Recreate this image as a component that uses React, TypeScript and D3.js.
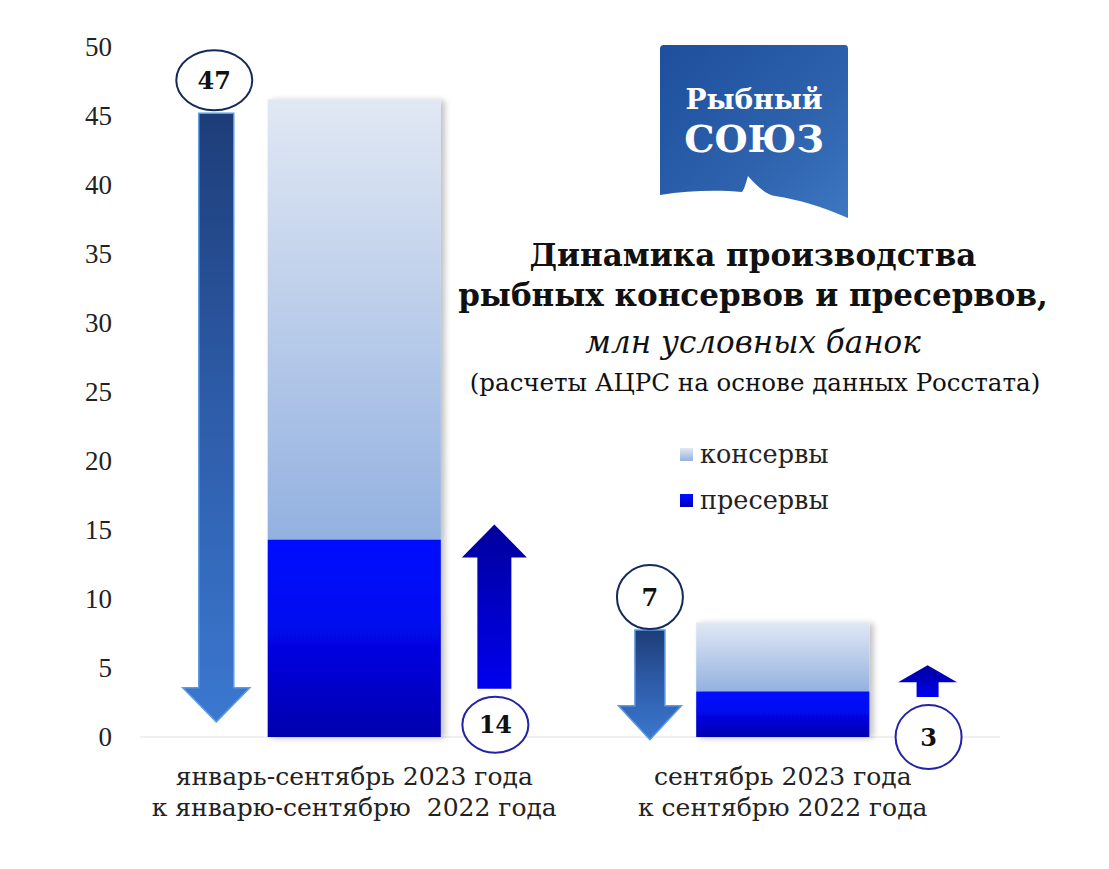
import React from "react";
import * as d3 from "d3";

// categories (two lines each)
const catLine1 = ["январь-сентябрь 2023 года", "сентябрь 2023 года"];
const catLine2 = ["к январю-сентябрю  2022 года", "к сентябрю 2022 года"];

// millions of conventional cans
const konservy = [46.2, 8.3];
const preservy = [14.3, 3.3];

// change labels (%), down for консервы, up for пресервы
const konservyChange = [47, 7];
const preservyChange = [14, 3];
// arrow extents in axis units
const downFrom = [45.2, 7.75];
const downTo = [1.1, -0.2];
const upFrom = [3.5, 2.9];
const upTo = [15.4, 5.2];

const yTicks = [0, 5, 10, 15, 20, 25, 30, 35, 40, 45, 50];

const W = 1109;
const H = 869;
const serif = "'DejaVu Serif', 'Liberation Serif', serif";

function arrowPath(cx: number, y0: number, y1: number, shaft: number, head: number, headLen: number) {
  // y0 = tail, y1 = tip
  const dir = y1 > y0 ? 1 : -1;
  const hb = y1 - dir * headLen;
  return [
    [cx - shaft / 2, y0],
    [cx + shaft / 2, y0],
    [cx + shaft / 2, hb],
    [cx + head / 2, hb],
    [cx, y1],
    [cx - head / 2, hb],
    [cx - shaft / 2, hb],
  ]
    .map((p, i) => (i ? "L" : "M") + p[0] + "," + p[1])
    .join("") + "Z";
}

export default function App() {
  const y = d3.scaleLinear().domain([0, 50]).range([737, 47]);
  const x = d3.scaleBand<number>().domain([0, 1]).range([140, 997]);
  const bw = x.bandwidth();
  const barW = bw * 0.404;
  const cx = (i: number) => (x(i) as number) + bw / 2;

  const downShaft = [35, 30];
  const downHead = [67, 63];
  const upShaft = [34, 22];
  const upHead = [65, 59];

  return (
    <svg width={W} height={H} style={{ position: "absolute", left: 0, top: 0, background: "#fff" }} fontFamily={serif}>
      <defs>
        <linearGradient id="gKons" x1="0" y1="0" x2="0" y2="1">
          <stop offset="0" stopColor="#e1e8f4" />
          <stop offset="1" stopColor="#93b1e0" />
        </linearGradient>
        <linearGradient id="gPres" x1="0" y1="0" x2="0" y2="1">
          <stop offset="0" stopColor="#0010ff" />
          <stop offset="0.4" stopColor="#0008f0" />
          <stop offset="1" stopColor="#0000ae" />
        </linearGradient>
        <linearGradient id="gDown" x1="0" y1="0" x2="0" y2="1">
          <stop offset="0" stopColor="#1d3d78" />
          <stop offset="0.45" stopColor="#2d5aa6" />
          <stop offset="1" stopColor="#3b78d0" />
        </linearGradient>
        <linearGradient id="gUp" x1="0" y1="0" x2="0" y2="1">
          <stop offset="0" stopColor="#00009c" />
          <stop offset="1" stopColor="#0000f0" />
        </linearGradient>
        <linearGradient id="gLogo" x1="0" y1="0" x2="1" y2="1">
          <stop offset="0" stopColor="#1d4f9c" />
          <stop offset="0.6" stopColor="#2e62ad" />
          <stop offset="1" stopColor="#3d77c2" />
        </linearGradient>
        <filter id="shadow" x="-10%" y="-10%" width="130%" height="130%">
          <feGaussianBlur in="SourceAlpha" stdDeviation="3" />
          <feOffset dx="4" dy="1" result="b" />
          <feComponentTransfer>
            <feFuncA type="linear" slope="0.25" />
          </feComponentTransfer>
          <feMerge>
            <feMergeNode />
            <feMergeNode in="SourceGraphic" />
          </feMerge>
        </filter>
      </defs>

      {/* y axis labels */}
      {yTicks.map((t) => (
        <text key={t} x={112} y={y(t)} dy="0.35em" textAnchor="end" fontSize={27} fill="#222"
          fontFamily="'Liberation Serif', serif">
          {t}
        </text>
      ))}
      <line x1={140} x2={1000} y1={y(0)} y2={y(0)} stroke="#e2e2e2" strokeWidth={1.2} />

      {/* stacked bars */}
      {konservy.map((v, i) => (
        <g key={"b" + i} filter="url(#shadow)">
          <rect x={cx(i) - barW / 2} width={barW} y={y(v)} height={y(preservy[i]) - y(v)} fill="url(#gKons)" />
          <rect x={cx(i) - barW / 2} width={barW} y={y(preservy[i])} height={y(0) - y(preservy[i])} fill="url(#gPres)" />
        </g>
      ))}

      {/* down arrows + labels */}
      {konservyChange.map((v, i) => {
        const ax = cx(i) - bw * (i === 0 ? 0.322 : 0.31);
        const top = y(downFrom[i]);
        const tip = y(downTo[i]);
        return (
          <g key={"d" + i}>
            <path d={arrowPath(ax, top, tip, downShaft[i], downHead[i], 34)} fill="url(#gDown)" stroke="#5b9be0" strokeWidth={1.5} />
            <ellipse cx={ax - (i === 0 ? 2 : 0)} cy={top - 33} rx={i === 0 ? 38 : 33} ry={i === 0 ? 30 : 32} fill="#fff" stroke="#142a5c" strokeWidth={2} />
            <text x={ax - (i === 0 ? 2 : 0)} y={top - 33} dy="0.36em" textAnchor="middle" fontSize={24} fontWeight="bold" fill="#111">
              {v}
            </text>
          </g>
        );
      })}

      {/* up arrows + labels */}
      {preservyChange.map((v, i) => {
        const ax = cx(i) + bw * (i === 0 ? 0.327 : 0.338);
        const bottom = y(upFrom[i]);
        const tip = y(upTo[i]);
        const hl = i === 0 ? 33 : 17;
        return (
          <g key={"u" + i}>
            <path d={arrowPath(ax, bottom, tip, upShaft[i], upHead[i], hl)} fill="url(#gUp)" />
            <ellipse cx={ax + 1} cy={bottom + (i === 0 ? 36 : 40)} rx={33} ry={i === 0 ? 28 : 32} fill="#fff" stroke="#2323a8" strokeWidth={2} />
            <text x={ax + 1} y={bottom + (i === 0 ? 36 : 40)} dy="0.36em" textAnchor="middle" fontSize={24} fontWeight="bold" fill="#111">
              {v}
            </text>
          </g>
        );
      })}

      {/* category labels */}
      {catLine1.map((c, i) => (
        <g key={"c" + i} fontSize={25} fill="#222" textAnchor="middle">
          <text x={cx(i)} y={785}>{c}</text>
          <text x={cx(i)} y={816} style={{ whiteSpace: "pre" }}>{catLine2[i]}</text>
        </g>
      ))}

      {/* logo */}
      <g>
        <path
          d="M664,45 L845,45 Q848,45 848,49 L848,218 C820,206 800,200 775,196 C765,194 757,186 748,176 C746,182 745,188 742,192 C720,190 690,190 660,195 L660,49 Q660,45 664,45 Z"
          fill="url(#gLogo)"
        />
        <text x={754} y={109} textAnchor="middle" fill="#fff" fontSize={28} fontWeight="bold">Рыбный</text>
        <text x={754} y={152} textAnchor="middle" fill="#fff" fontSize={38} fontWeight="bold">СОЮЗ</text>
      </g>

      {/* title */}
      <g textAnchor="middle" fill="#111">
        <text x={753} y={266} fontSize={31} fontWeight="bold">Динамика производства</text>
        <text x={753} y={306} fontSize={31} fontWeight="bold">рыбных консервов и пресервов,</text>
        <text x={753} y={353} fontSize={31} fontStyle="italic">млн условных банок</text>
        <text x={755} y={391} fontSize={24.5}>(расчеты АЦРС на основе данных Росстата)</text>
      </g>

      {/* legend */}
      <g fontSize={25.5} fill="#222">
        <rect x={680} y={448} width={13} height={13} fill="url(#gKons)" />
        <text x={700} y={463}>консервы</text>
        <rect x={680} y={494} width={13} height={13} fill="url(#gPres)" />
        <text x={700} y={509}>пресервы</text>
      </g>
    </svg>
  );
}
